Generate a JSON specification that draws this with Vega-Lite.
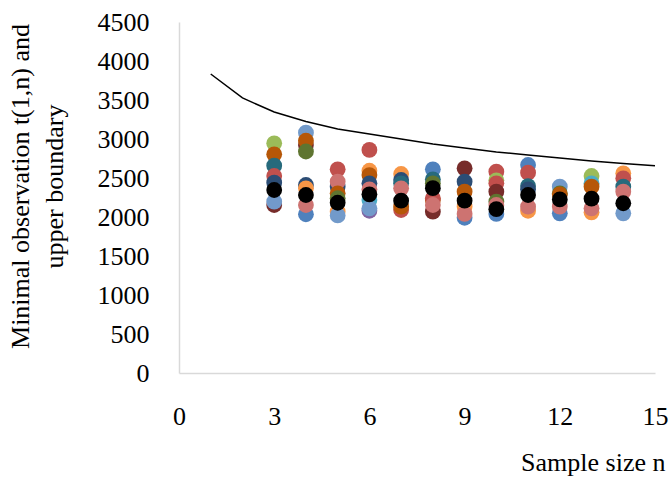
{
  "$schema": "https://vega.github.io/schema/vega-lite/v6.json",
  "width": 476,
  "height": 351,
  "autosize": {"type": "none"},
  "padding": {"left": 179, "top": 22, "right": 17, "bottom": 109},
  "background": "white",
  "config": {
    "view": {"stroke": null},
    "font": "Liberation Serif",
    "axis": {
      "labelFont": "Liberation Serif",
      "titleFont": "Liberation Serif",
      "labelFontSize": 26,
      "titleFontSize": 26,
      "labelColor": "#000000",
      "titleColor": "#000000",
      "titleFontWeight": "normal",
      "domainColor": "#D9D9D9",
      "domainWidth": 1.5,
      "ticks": false,
      "grid": false
    }
  },
  "datasets": {
    "boundary": [
      {"n": 1, "t": 3833}, {"n": 2, "t": 3526}, {"n": 3, "t": 3346}, {"n": 4, "t": 3225},
      {"n": 5, "t": 3128}, {"n": 6, "t": 3064}, {"n": 7, "t": 3000}, {"n": 8, "t": 2936},
      {"n": 9, "t": 2884}, {"n": 10, "t": 2833}, {"n": 11, "t": 2795}, {"n": 12, "t": 2756},
      {"n": 13, "t": 2718}, {"n": 14, "t": 2686}, {"n": 15, "t": 2657}
    ],
    "obs": [
      {"n": 3, "t": 2945, "s": "s3"}, {"n": 3, "t": 2803, "s": "s12"}, {"n": 3, "t": 2658, "s": "s11"},
      {"n": 3, "t": 2526, "s": "s2"}, {"n": 3, "t": 2440, "s": "s7"}, {"n": 3, "t": 2154, "s": "s8"},
      {"n": 3, "t": 2196, "s": "s13"},
      {"n": 4, "t": 3081, "s": "s13"}, {"n": 4, "t": 2923, "s": "s8"}, {"n": 4, "t": 2978, "s": "s12"},
      {"n": 4, "t": 2840, "s": "s9"}, {"n": 4, "t": 2410, "s": "s7"}, {"n": 4, "t": 2368, "s": "s6"},
      {"n": 4, "t": 2035, "s": "s1"}, {"n": 4, "t": 2154, "s": "s14"},
      {"n": 5, "t": 2611, "s": "s2"}, {"n": 5, "t": 2389, "s": "s7"}, {"n": 5, "t": 2453, "s": "s14"},
      {"n": 5, "t": 2304, "s": "s12"}, {"n": 5, "t": 2240, "s": "s9"}, {"n": 5, "t": 2068, "s": "s6"},
      {"n": 5, "t": 2020, "s": "s13"},
      {"n": 6, "t": 2860, "s": "s2"}, {"n": 6, "t": 2593, "s": "s6"}, {"n": 6, "t": 2538, "s": "s12"},
      {"n": 6, "t": 2432, "s": "s7"}, {"n": 6, "t": 2355, "s": "s14"}, {"n": 6, "t": 2218, "s": "s5"},
      {"n": 6, "t": 2080, "s": "s4"}, {"n": 6, "t": 2111, "s": "s13"},
      {"n": 7, "t": 2551, "s": "s6"}, {"n": 7, "t": 2474, "s": "s7"}, {"n": 7, "t": 2432, "s": "s11"},
      {"n": 7, "t": 2368, "s": "s14"}, {"n": 7, "t": 2090, "s": "s2"}, {"n": 7, "t": 2132, "s": "s12"},
      {"n": 8, "t": 2611, "s": "s1"}, {"n": 8, "t": 2483, "s": "s11"}, {"n": 8, "t": 2432, "s": "s9"},
      {"n": 8, "t": 2218, "s": "s12"}, {"n": 8, "t": 2240, "s": "s2"}, {"n": 8, "t": 2068, "s": "s8"},
      {"n": 8, "t": 2154, "s": "s14"},
      {"n": 9, "t": 2624, "s": "s8"}, {"n": 9, "t": 2453, "s": "s7"}, {"n": 9, "t": 2325, "s": "s12"},
      {"n": 9, "t": 2132, "s": "s6"}, {"n": 9, "t": 1990, "s": "s1"}, {"n": 9, "t": 2040, "s": "s14"},
      {"n": 10, "t": 2581, "s": "s2"}, {"n": 10, "t": 2470, "s": "s3"}, {"n": 10, "t": 2432, "s": "s16"},
      {"n": 10, "t": 2325, "s": "s8"}, {"n": 10, "t": 2196, "s": "s9"}, {"n": 10, "t": 2040, "s": "s1"},
      {"n": 10, "t": 2154, "s": "s14"},
      {"n": 11, "t": 2667, "s": "s1"}, {"n": 11, "t": 2568, "s": "s2"}, {"n": 11, "t": 2397, "s": "s11"},
      {"n": 11, "t": 2355, "s": "s7"}, {"n": 11, "t": 2080, "s": "s6"}, {"n": 11, "t": 2132, "s": "s14"},
      {"n": 12, "t": 2389, "s": "s13"}, {"n": 12, "t": 2304, "s": "s9"}, {"n": 12, "t": 2290, "s": "s12"},
      {"n": 12, "t": 2047, "s": "s1"}, {"n": 12, "t": 2132, "s": "s14"},
      {"n": 13, "t": 2526, "s": "s3"}, {"n": 13, "t": 2432, "s": "s5"}, {"n": 13, "t": 2389, "s": "s12"},
      {"n": 13, "t": 2060, "s": "s6"}, {"n": 13, "t": 2111, "s": "s14"},
      {"n": 14, "t": 2560, "s": "s6"}, {"n": 14, "t": 2496, "s": "s2"}, {"n": 14, "t": 2389, "s": "s11"},
      {"n": 14, "t": 2047, "s": "s13"}, {"n": 14, "t": 2325, "s": "s14"}
    ],
    "mean": [
      {"n": 3, "t": 2346}, {"n": 4, "t": 2282}, {"n": 5, "t": 2183}, {"n": 6, "t": 2291},
      {"n": 7, "t": 2209}, {"n": 8, "t": 2370}, {"n": 9, "t": 2209}, {"n": 10, "t": 2100},
      {"n": 11, "t": 2282}, {"n": 12, "t": 2225}, {"n": 13, "t": 2235}, {"n": 14, "t": 2176}
    ]
  },
  "encoding": {
    "x": {
      "field": "n", "type": "quantitative",
      "scale": {"domain": [0, 15], "nice": false, "zero": false},
      "axis": {
        "values": [0, 3, 6, 9, 12, 15],
        "format": "d",
        "labelPadding": 30,
        "labelFlush": false,
        "labelOverlap": false,
        "title": "Sample size n",
        "titleAlign": "right",
        "titleAnchor": "end",
        "titleX": 486,
        "titleY": 97,
        "titleBaseline": "alphabetic"
      }
    },
    "y": {
      "field": "t", "type": "quantitative",
      "scale": {"domain": [0, 4500], "nice": false},
      "axis": {
        "values": [0, 500, 1000, 1500, 2000, 2500, 3000, 3500, 4000, 4500],
        "format": "d",
        "labelPadding": 30,
        "labelFlush": false,
        "labelOverlap": false,
        "title": ["Minimal observation t(1,n) and", "upper boundary"],
        "titleLineHeight": 34,
        "titleX": -146,
        "titleY": 164,
        "titleAngle": -90,
        "titleAlign": "center",
        "titleBaseline": "bottom"
      }
    }
  },
  "layer": [
    {
      "data": {"name": "boundary"},
      "mark": {"type": "line", "color": "#000000", "strokeWidth": 1.5}
    },
    {
      "data": {"name": "obs"},
      "mark": {"type": "circle", "size": 250, "opacity": 1},
      "encoding": {
        "color": {
          "field": "s", "type": "nominal", "legend": null,
          "scale": {
            "domain": ["s1", "s2", "s3", "s4", "s5", "s6", "s7", "s8", "s9", "s11", "s12", "s13", "s14", "s16"],
            "range": ["#4F81BD", "#C0504D", "#9BBB59", "#8064A2", "#4BACC6", "#F79646", "#2C4D75", "#772C2A", "#5F7530", "#276A7C", "#B65708", "#729ACA", "#CD7371", "#C24F4C"]
          }
        }
      }
    },
    {
      "data": {"name": "mean"},
      "mark": {"type": "circle", "size": 250, "opacity": 1, "color": "#000000"}
    }
  ]
}
